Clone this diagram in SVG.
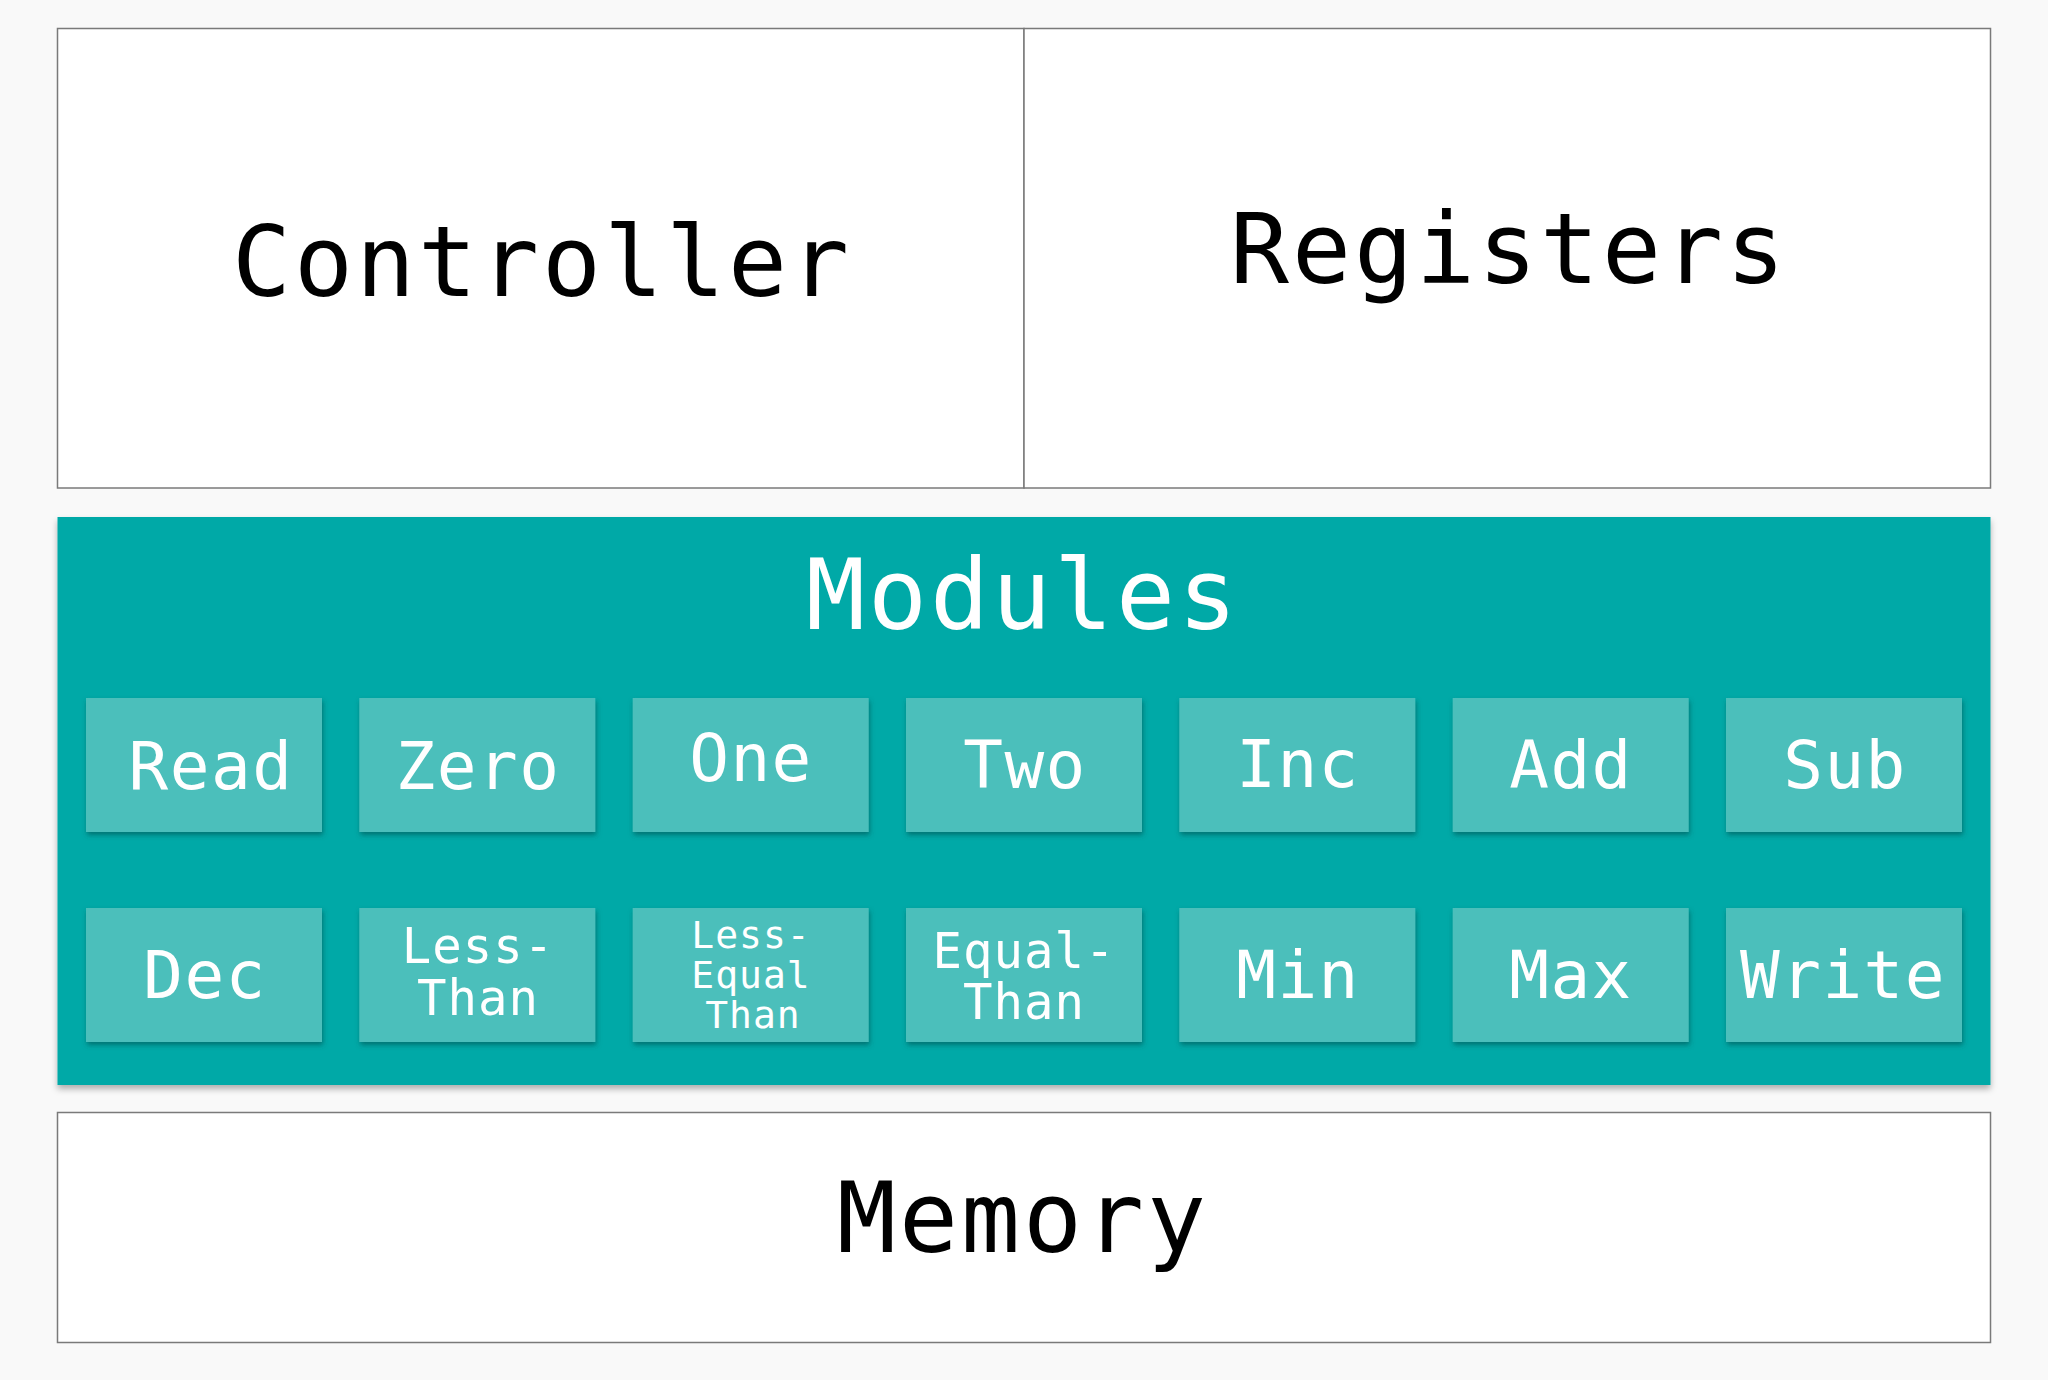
<svg xmlns="http://www.w3.org/2000/svg" width="2048" height="1380" viewBox="0 0 2048 1380">
  <defs>
    <filter id="panelShadow" x="-5%" y="-5%" width="110%" height="115%">
      <feDropShadow dx="0" dy="4" stdDeviation="3" flood-color="#000" flood-opacity="0.3"/>
    </filter>
    <filter id="boxShadow" x="-10%" y="-10%" width="120%" height="125%">
      <feDropShadow dx="1" dy="3" stdDeviation="2.5" flood-color="#004a48" flood-opacity="0.55"/>
    </filter>
    <style>
      .frame { fill: #ffffff; stroke: #7a7a7a; stroke-width: 1.5; }
      .big { font-family: "DejaVu Sans Mono", "Liberation Mono", monospace; font-size: 98px; letter-spacing: 3px; fill: #000000; text-anchor: middle; }
      .bigw { fill: #ffffff; }
      .panel { fill: #02a9a7; }
      .mod { fill: #4bbfbb; }
      .lbl { font-family: "DejaVu Sans Mono", "Liberation Mono", monospace; font-size: 66px; letter-spacing: 1.5px; fill: #ffffff; text-anchor: middle; }
      .lbl2 { font-family: "DejaVu Sans Mono", "Liberation Mono", monospace; font-size: 49px; letter-spacing: 1px; fill: #ffffff; text-anchor: middle; }
      .lbl3 { font-family: "DejaVu Sans Mono", "Liberation Mono", monospace; font-size: 38px; letter-spacing: 1px; fill: #ffffff; text-anchor: middle; }
    </style>
  </defs>
  <rect x="0" y="0" width="2048" height="1380" fill="#f9f9f9"/>

  <g id="controller">
    <rect class="frame" x="57.5" y="28.5" width="966.5" height="459.5"/>
    <text class="big" x="542" y="296">Controller</text>
  </g>
  <g id="registers">
    <rect class="frame" x="1024" y="28.5" width="966.5" height="459.5"/>
    <text class="big" x="1509" y="283">Registers</text>
  </g>

  <g id="modules">
    <rect class="panel" x="57.5" y="517" width="1933" height="568" filter="url(#panelShadow)"/>
    <text class="big bigw" x="1023" y="629">Modules</text>
  </g>

  <g id="mod-read">
    <rect class="mod" x="86" y="698" width="236" height="134" filter="url(#boxShadow)"/>
    <text class="lbl" x="211" y="789">Read</text>
  </g>
  <g id="mod-zero">
    <rect class="mod" x="359.3" y="698" width="236" height="134" filter="url(#boxShadow)"/>
    <text class="lbl" x="478" y="789">Zero</text>
  </g>
  <g id="mod-one">
    <rect class="mod" x="632.7" y="698" width="236" height="134" filter="url(#boxShadow)"/>
    <text class="lbl" x="751" y="781">One</text>
  </g>
  <g id="mod-two">
    <rect class="mod" x="906" y="698" width="236" height="134" filter="url(#boxShadow)"/>
    <text class="lbl" x="1025" y="788">Two</text>
  </g>
  <g id="mod-inc">
    <rect class="mod" x="1179.3" y="698" width="236" height="134" filter="url(#boxShadow)"/>
    <text class="lbl" x="1298" y="787">Inc</text>
  </g>
  <g id="mod-add">
    <rect class="mod" x="1452.7" y="698" width="236" height="134" filter="url(#boxShadow)"/>
    <text class="lbl" x="1571" y="788">Add</text>
  </g>
  <g id="mod-sub">
    <rect class="mod" x="1726" y="698" width="236" height="134" filter="url(#boxShadow)"/>
    <text class="lbl" x="1845" y="788">Sub</text>
  </g>

  <g id="mod-dec">
    <rect class="mod" x="86" y="908" width="236" height="134" filter="url(#boxShadow)"/>
    <text class="lbl" x="205" y="998">Dec</text>
  </g>
  <g id="mod-less-than">
    <rect class="mod" x="359.3" y="908" width="236" height="134" filter="url(#boxShadow)"/>
    <text class="lbl2" x="478" y="963">Less-</text>
    <text class="lbl2" x="478" y="1015">Than</text>
  </g>
  <g id="mod-less-equal-than">
    <rect class="mod" x="632.7" y="908" width="236" height="134" filter="url(#boxShadow)"/>
    <text class="lbl3" x="751" y="948">Less-</text>
    <text class="lbl3" x="751" y="988">Equal</text>
    <text class="lbl3" x="753" y="1028">Than</text>
  </g>
  <g id="mod-equal-than">
    <rect class="mod" x="906" y="908" width="236" height="134" filter="url(#boxShadow)"/>
    <text class="lbl2" x="1024" y="968">Equal-</text>
    <text class="lbl2" x="1024" y="1019">Than</text>
  </g>
  <g id="mod-min">
    <rect class="mod" x="1179.3" y="908" width="236" height="134" filter="url(#boxShadow)"/>
    <text class="lbl" x="1298" y="998">Min</text>
  </g>
  <g id="mod-max">
    <rect class="mod" x="1452.7" y="908" width="236" height="134" filter="url(#boxShadow)"/>
    <text class="lbl" x="1571" y="998">Max</text>
  </g>
  <g id="mod-write">
    <rect class="mod" x="1726" y="908" width="236" height="134" filter="url(#boxShadow)"/>
    <text class="lbl" x="1843" y="998">Write</text>
  </g>

  <g id="memory">
    <rect class="frame" x="57.5" y="1112.5" width="1933" height="230"/>
    <text class="big" x="1023" y="1252">Memory</text>
  </g>

  <g id="connectors"></g>
</svg>
